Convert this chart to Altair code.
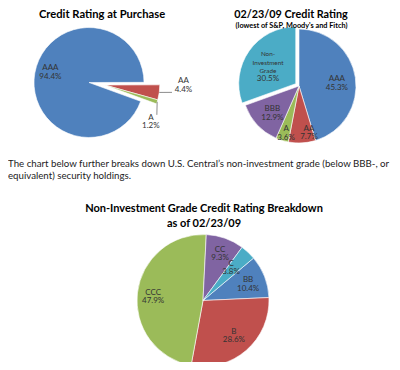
import math
import altair as alt
import pandas as pd

# ---------------- data ----------------
P1_LABELS = ["AAA", "AA", "A"]
P1_VALUES = [94.4, 4.4, 1.2]

P2_LABELS = ["AAA", "AA", "A", "BBB", "Non-Investment Grade"]
P2_VALUES = [45.3, 7.7, 3.6, 12.9, 30.5]

P3_LABELS = ["BB", "B", "CCC", "CC", "C"]
P3_VALUES = [10.4, 28.6, 47.9, 9.3, 3.8]

TITLE1 = "Credit Rating at Purchase"
TITLE2 = "02/23/09 Credit Rating"
SUBTITLE2 = "(lowest of S&P, Moody's  and Fitch)"
PARAGRAPH = [
    "The chart below further breaks down U.S. Central’s non-investment grade (below BBB-, or",
    "equivalent) security holdings.",
]
TITLE3 = ["Non-Investment Grade Credit Rating Breakdown", "as of 02/23/09"]
NAME_DISPLAY = {"Non-Investment Grade": "Non-\nInvestment\nGrade"}

# ---------------- styles / layout ----------------
PALETTE = ["#4F81BD", "#C0504D", "#9BBB59", "#8064A2", "#4BACC6"]
FONT = "Lato"
LABEL_SIZE = 8
SMALL_NAME_SIZE = 6.3
NAME_LINE_HEIGHT = 8.5
LABEL_COLOR = "#333333"
M = 8  # page margin


def px(v):
    return v - M


PIES = [
    dict(labels=P1_LABELS, values=P1_VALUES, cx=89, cy=82.5, r=55, start=110,
         explode={"AA": (16, 99), "A": (16, 99)},
         label_pos={"AAA": (5, 40), "AA": (-7.5, 78.7), "A": (20.8, 59)},
         leader={"AA": (-1.5, 67.6), "A": (12, 60)}),
    dict(labels=P2_LABELS, values=P2_VALUES, cx=299, cy=86, r=57, start=0,
         explode={"Non-Investment Grade": (4, None)},
         label_pos={"AAA": (4, 38), "AA": (-9, 48), "A": (-2, 49), "BBB": (-2.5, 38),
                    "Non-Investment Grade": (-16.5, 29.3)},
         leader={}),
    dict(labels=P3_LABELS, values=P3_VALUES, cx=203, cy=300.5, r=66, start=50,
         explode={},
         label_pos={"BB": (1.3, 48), "B": (0, 47), "CCC": (-2.6, 50), "CC": (0.4, 50), "C": (-2.4, 43)},
         leader={}),
]

TH = alt.Scale(domain=[0, 360], range=[0, 2 * math.pi], nice=False, zero=False)
COLOR = alt.Color("order:N", scale=alt.Scale(domain=list(range(len(PALETTE))), range=PALETTE), legend=None)
X = alt.X("cx:Q", scale=None, axis=None)
Y = alt.Y("cy:Q", scale=None, axis=None)


def pie_frame(p):
    rows = []
    for i, (lab, val) in enumerate(zip(p["labels"], p["values"])):
        ex, ea = p["explode"].get(lab, (0, None))
        dth, lr = p["label_pos"][lab]
        ldth, lrad = p["leader"].get(lab, (0, 0))
        name = NAME_DISPLAY.get(lab, lab)
        rows.append(dict(label=lab, value=val, order=i, ex=ex, ea=-1 if ea is None else ea,
                         dth=dth, lr=lr, ldth=ldth, lrad=lrad,
                         name=name, nlines=name.count("\n") + 1,
                         nsize=SMALL_NAME_SIZE if lab in NAME_DISPLAY else LABEL_SIZE))
    return pd.DataFrame(rows)


def pie_layers(p):
    cx, cy, r, s = px(p["cx"]), px(p["cy"]), p["r"], p["start"]
    df = pie_frame(p)
    base = (
        alt.Chart(df)
        .transform_joinaggregate(total="sum(value)")
        .transform_window(cum="sum(value)", sort=[alt.SortField("order", order="ascending")], frame=[None, 0])
        .transform_calculate(a0=f"{s} + (datum.cum - datum.value) / datum.total * 360")
        .transform_calculate(a1=f"{s} + datum.cum / datum.total * 360")
        .transform_calculate(mid="(datum.a0 + datum.a1) / 2")
        .transform_calculate(eang="datum.ea < 0 ? datum.mid : datum.ea")
        .transform_calculate(cx=f"{cx} + datum.ex * sin(datum.eang * PI / 180)")
        .transform_calculate(cy=f"{cy} - datum.ex * cos(datum.eang * PI / 180)")
        .transform_calculate(lth="datum.mid + datum.dth")
        .transform_calculate(pct="format(datum.value, '.1f') + '%'")
    )
    arcs = base.mark_arc(radius=r, stroke="white", strokeWidth=0.6).encode(
        x=X, y=Y,
        theta=alt.Theta("a0:Q", scale=TH, stack=None),
        theta2=alt.Theta2("a1:Q"),
        color=COLOR,
    )
    layers = [arcs]
    for n in sorted(df["nlines"].unique()):
        names = base.transform_filter(f"datum.nlines == {int(n)}").mark_text(
            baseline="bottom", lineBreak="\n", font=FONT, color=LABEL_COLOR,
            lineHeight=NAME_LINE_HEIGHT, dy=-(int(n) - 1) * NAME_LINE_HEIGHT,
        ).encode(
            x=X, y=Y,
            theta=alt.Theta("lth:Q", scale=TH, stack=None),
            radius=alt.Radius("lr:Q", scale=None),
            text=alt.Text("name:N"),
            size=alt.Size("nsize:Q", scale=None),
        )
        layers.append(names)
    pcts = base.mark_text(baseline="top", font=FONT, color=LABEL_COLOR, fontSize=LABEL_SIZE, dy=0.5).encode(
        x=X, y=Y,
        theta=alt.Theta("lth:Q", scale=TH, stack=None),
        radius=alt.Radius("lr:Q", scale=None),
        text=alt.Text("pct:N"),
    )
    layers.append(pcts)
    if p["leader"]:
        lead = (
            base.transform_filter("datum.lrad > 0")
            .transform_calculate(lx1=f"datum.cx + {r} * sin(datum.mid * PI / 180)")
            .transform_calculate(ly1=f"datum.cy - {r} * cos(datum.mid * PI / 180)")
            .transform_calculate(lx2="datum.cx + datum.lrad * sin((datum.mid + datum.ldth) * PI / 180)")
            .transform_calculate(ly2="datum.cy - datum.lrad * cos((datum.mid + datum.ldth) * PI / 180)")
            .mark_rule(color="#6f6f6f", strokeWidth=0.8)
            .encode(x=alt.X("lx1:Q", scale=None, axis=None), y=alt.Y("ly1:Q", scale=None, axis=None),
                    x2="lx2:Q", y2="ly2:Q")
        )
        layers.append(lead)
    return layers


def text_layer(lines, x, y, size, bold=True, align="center", line_height=None, color="#000000"):
    kw = dict(align=align, baseline="alphabetic", font=FONT, fontSize=size,
              fontWeight="bold" if bold else "normal", color=color, lineBreak="\n")
    if line_height:
        kw["lineHeight"] = line_height
    return alt.Chart(pd.DataFrame({"t": ["\n".join(lines)]})).mark_text(**kw).encode(
        text="t:N", x=alt.value(px(x)), y=alt.value(px(y))
    )


layers = []
for p in PIES:
    layers += pie_layers(p)

layers += [
    text_layer([TITLE1], 102, 18, 11.2),
    text_layer([TITLE2], 291, 18.2, 10.8),
    text_layer([SUBTITLE2], 291.5, 28, 7.3),
    text_layer(PARAGRAPH, 8, 166.7, 9.7, bold=False, align="left", line_height=12.5, color="#222222"),
    text_layer(TITLE3, 204, 212, 11, line_height=15),
]

chart = alt.layer(*layers).properties(
    width=384, height=354, autosize=alt.AutoSizeParams(type="none"), padding=0
).configure_view(stroke=None)

chart.save("out.html", embed_options={"renderer": "svg", "actions": False})
